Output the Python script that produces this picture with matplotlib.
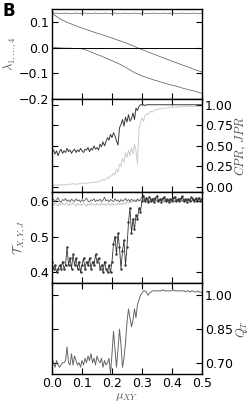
import numpy as np
import matplotlib
matplotlib.use('Agg')
import matplotlib.pyplot as plt

plt.rcParams['mathtext.fontset'] = 'cm'
plt.rcParams['font.size'] = 9

# x grids
mu_fine = [round(0.005 * i, 3) for i in range(101)]
mu_coarse = [round(0.01 * i, 2) for i in range(51)]

# panel 1: eigenvalues
lam1 = [0.140, 0.136, 0.133, 0.135, 0.132, 0.134, 0.131, 0.134, 0.133, 0.135,
        0.132, 0.134, 0.133, 0.131, 0.134, 0.132, 0.135, 0.133, 0.132, 0.134,
        0.131, 0.133, 0.135, 0.132, 0.134, 0.133, 0.131, 0.134, 0.132, 0.135,
        0.133, 0.132, 0.134, 0.131, 0.133, 0.135, 0.132, 0.134, 0.133, 0.131,
        0.134, 0.132, 0.135, 0.133, 0.132, 0.134, 0.131, 0.133, 0.135, 0.132,
        0.134, 0.133, 0.131, 0.134, 0.132, 0.135, 0.133, 0.132, 0.134, 0.131,
        0.133, 0.135, 0.132, 0.134, 0.133, 0.131, 0.134, 0.132, 0.135, 0.133,
        0.132, 0.134, 0.131, 0.133, 0.135, 0.132, 0.134, 0.133, 0.131, 0.134,
        0.132, 0.135, 0.133, 0.132, 0.134, 0.131, 0.133, 0.135, 0.132, 0.134,
        0.133, 0.131, 0.134, 0.132, 0.135, 0.133, 0.132, 0.134, 0.131, 0.133,
        0.134]
lam2 = [0.135, 0.125, 0.117, 0.110, 0.104, 0.098, 0.094, 0.089, 0.085, 0.080,
        0.076, 0.072, 0.068, 0.064, 0.060, 0.056, 0.053, 0.049, 0.045, 0.041,
        0.037, 0.033, 0.029, 0.025, 0.021, 0.016, 0.012, 0.007, 0.002, -0.003,
        -0.008, -0.012, -0.017, -0.021, -0.026, -0.030, -0.035, -0.039, -0.044, -0.048,
        -0.053, -0.057, -0.061, -0.066, -0.070, -0.074, -0.078, -0.083, -0.087, -0.091,
        -0.095]
lam3 = [0.000, 0.000, -0.001, -0.001, -0.002, -0.002, -0.002, -0.003, -0.003, -0.004,
        -0.005, -0.008, -0.012, -0.017, -0.022, -0.027, -0.031, -0.036, -0.041, -0.046,
        -0.051, -0.056, -0.061, -0.067, -0.073, -0.080, -0.087, -0.094, -0.100, -0.105,
        -0.110, -0.114, -0.118, -0.122, -0.126, -0.129, -0.133, -0.136, -0.140, -0.143,
        -0.146, -0.149, -0.152, -0.156, -0.159, -0.162, -0.165, -0.168, -0.171, -0.175,
        -0.178]
lam4 = 0.0

# panel 2: CPR (dark) and JPR (light)
cpr = [0.42, 0.45, 0.40, 0.44, 0.38, 0.43, 0.46, 0.41, 0.44, 0.42,
       0.47, 0.43, 0.45, 0.41, 0.44, 0.46, 0.42, 0.45, 0.43, 0.47,
       0.44, 0.42, 0.46, 0.45, 0.48, 0.43, 0.47, 0.45, 0.50, 0.46,
       0.48, 0.45, 0.52, 0.49, 0.55, 0.50, 0.55, 0.60, 0.57, 0.64,
       0.60, 0.66, 0.62, 0.56, 0.51, 0.72, 0.76, 0.82, 0.74, 0.85,
       0.79, 0.88, 0.80, 0.83, 0.90, 0.82, 0.96, 0.93, 0.98, 1.00,
       1.00, 1.00, 0.99, 1.00, 1.00, 1.00, 1.00, 1.00, 1.00, 1.00,
       1.00, 1.00, 1.00, 1.00, 1.00, 1.00, 1.00, 1.00, 1.00, 1.00,
       1.00, 1.00, 1.00, 1.00, 1.00, 1.00, 1.00, 1.00, 1.00, 1.00,
       1.00, 1.00, 1.00, 1.00, 1.00, 1.00, 1.00, 1.00, 1.00, 1.00,
       1.00]
jpr = [0.02, 0.02, 0.03, 0.02, 0.03, 0.02, 0.03, 0.03, 0.02, 0.03,
       0.03, 0.03, 0.04, 0.03, 0.04, 0.04, 0.03, 0.04, 0.04, 0.05,
       0.04, 0.05, 0.05, 0.04, 0.05, 0.05, 0.06, 0.05, 0.06, 0.06,
       0.06, 0.07, 0.07, 0.08, 0.09, 0.08, 0.10, 0.12, 0.10, 0.14,
       0.13, 0.17, 0.15, 0.22, 0.18, 0.28, 0.25, 0.35, 0.30, 0.42,
       0.36, 0.45, 0.38, 0.48, 0.40, 0.52, 0.44, 0.28, 0.70, 0.78,
       0.84, 0.80, 0.87, 0.89, 0.88, 0.91, 0.92, 0.91, 0.93, 0.94,
       0.94, 0.95, 0.95, 0.95, 0.96, 0.96, 0.96, 0.96, 0.97, 0.97,
       0.97, 0.97, 0.97, 0.97, 0.97, 0.98, 0.97, 0.98, 0.98, 0.98,
       0.98, 0.98, 0.98, 0.98, 0.98, 0.98, 0.98, 0.98, 0.98, 0.98,
       0.98]

# panel 3: transfer entropies
t_j = [0.43, 0.41, 0.42, 0.40, 0.41, 0.42, 0.41, 0.43, 0.41, 0.42,
       0.47, 0.42, 0.44, 0.41, 0.45, 0.42, 0.44, 0.41, 0.43, 0.40,
       0.42, 0.44, 0.41, 0.43, 0.42, 0.44, 0.41, 0.43, 0.42, 0.45,
       0.43, 0.44, 0.41, 0.42, 0.40, 0.43, 0.41, 0.40, 0.42, 0.40,
       0.43, 0.48, 0.50, 0.45, 0.51, 0.47, 0.41, 0.46, 0.49, 0.42,
       0.47, 0.54, 0.58, 0.51, 0.55, 0.52, 0.56, 0.55, 0.58, 0.57,
       0.60, 0.615, 0.600, 0.608, 0.598, 0.612, 0.601, 0.606, 0.597, 0.609,
       0.614, 0.600, 0.605, 0.598, 0.607, 0.611, 0.600, 0.604, 0.597, 0.606,
       0.600, 0.608, 0.612, 0.599, 0.605, 0.600, 0.607, 0.613, 0.600, 0.604,
       0.598, 0.606, 0.600, 0.611, 0.604, 0.599, 0.607, 0.600, 0.609, 0.601,
       0.606]
t_x = [0.600, 0.605, 0.598, 0.603, 0.609, 0.600, 0.596, 0.604, 0.601, 0.607,
       0.599, 0.603, 0.597, 0.605, 0.601, 0.598, 0.606, 0.600, 0.603, 0.597,
       0.604, 0.599, 0.602, 0.608, 0.600, 0.597, 0.603, 0.601, 0.606, 0.598,
       0.603, 0.600, 0.605, 0.598, 0.602, 0.610, 0.600, 0.603, 0.597, 0.604,
       0.601, 0.598, 0.606, 0.600, 0.603, 0.597, 0.604, 0.599, 0.602, 0.607,
       0.600, 0.604, 0.598, 0.605, 0.601, 0.603, 0.598, 0.606, 0.600, 0.604,
       0.612, 0.603, 0.598, 0.606, 0.601, 0.597, 0.605, 0.600, 0.608, 0.602,
       0.599, 0.604, 0.600, 0.606, 0.601, 0.598, 0.605, 0.600, 0.603, 0.599,
       0.606, 0.601, 0.597, 0.604, 0.600, 0.607, 0.602, 0.598, 0.604, 0.600,
       0.606, 0.601, 0.603, 0.598, 0.605, 0.600, 0.604, 0.599, 0.607, 0.601,
       0.603]
t_y = [0.592, 0.588, 0.594, 0.590, 0.586, 0.593, 0.589, 0.595, 0.588, 0.591,
       0.594, 0.587, 0.592, 0.589, 0.595, 0.590, 0.586, 0.593, 0.589, 0.591,
       0.587, 0.593, 0.590, 0.585, 0.592, 0.588, 0.594, 0.589, 0.591, 0.586,
       0.593, 0.590, 0.588, 0.594, 0.589, 0.592, 0.587, 0.593, 0.590, 0.588,
       0.594, 0.589, 0.592, 0.588, 0.595, 0.590, 0.593, 0.589, 0.596, 0.592,
       0.597, 0.594, 0.598, 0.595, 0.600, 0.597, 0.601, 0.598, 0.602, 0.600,
       0.603, 0.600, 0.605, 0.601, 0.603, 0.599, 0.604, 0.600, 0.602, 0.605,
       0.600, 0.603, 0.599, 0.604, 0.601, 0.603, 0.600, 0.605, 0.601, 0.602,
       0.599, 0.604, 0.600, 0.603, 0.601, 0.605, 0.600, 0.602, 0.604, 0.600,
       0.603, 0.601, 0.599, 0.604, 0.600, 0.603, 0.601, 0.605, 0.600, 0.602,
       0.603]

# panel 4: Q_T
q_t = [0.72, 0.70, 0.68, 0.71, 0.69, 0.68, 0.69, 0.70, 0.70, 0.71,
       0.77, 0.70, 0.69, 0.74, 0.69, 0.73, 0.71, 0.69, 0.70, 0.68,
       0.71, 0.69, 0.72, 0.70, 0.73, 0.71, 0.74, 0.70, 0.72, 0.69,
       0.73, 0.71, 0.70, 0.72, 0.68, 0.71, 0.69, 0.70, 0.72, 0.65,
       0.74, 0.84, 0.76, 0.68, 0.76, 0.85, 0.78, 0.68, 0.72, 0.79,
       0.88, 0.94, 0.90, 0.86, 0.89, 0.94, 0.90, 0.96, 0.98, 1.00,
       1.01, 1.02, 1.02, 1.015, 1.00, 1.01, 1.015, 1.02, 1.02, 1.02,
       1.02, 1.02, 1.02, 1.02, 1.025, 1.02, 1.02, 1.02, 1.02, 1.02,
       1.02, 1.025, 1.02, 1.02, 1.02, 1.02, 1.02, 1.02, 1.02, 1.015,
       1.02, 1.02, 1.015, 1.02, 1.02, 1.015, 1.015, 1.02, 1.015, 1.015,
       1.01]

fig = plt.figure(figsize=(2.49, 4.03), dpi=100)
L, W = 0.209, 0.602
ax1 = fig.add_axes([L, 0.7543, W, 0.2233])
ax2 = fig.add_axes([L, 0.5236, W, 0.2308])
ax3 = fig.add_axes([L, 0.2978, W, 0.2258])
ax4 = fig.add_axes([L, 0.0720, W, 0.2258])

for ax in (ax1, ax2, ax3, ax4):
    ax.set_xlim(0, 0.5)
    ax.set_xticks([0.0, 0.1, 0.2, 0.3, 0.4, 0.5])
    ax.tick_params(direction='in', top=True, bottom=True, length=4, width=0.8,
                   labelsize=9, pad=2)
    for s in ax.spines.values():
        s.set_linewidth(1.0)
    if ax is not ax4:
        ax.set_xticklabels([])

# panel 1
ax1.plot(mu_fine, lam1, color='#666666', lw=0.5)
ax1.plot(mu_coarse, lam2, color='#555555', lw=0.5)
ax1.plot(mu_coarse, lam3, color='#555555', lw=0.5)
ax1.axhline(lam4, color='black', lw=0.7)
ax1.set_ylim(-0.2, 0.15)
ax1.set_yticks([-0.2, -0.1, 0.0, 0.1])
ax1.tick_params(axis='y', left=True, right=True)
ax1.set_ylabel(r'$\lambda_{1,\ldots,4}$', fontsize=9, color='#555555', labelpad=0)

# panel 2
ax2.plot(mu_fine, jpr, color='#cccccc', lw=0.7)
ax2.plot(mu_fine, cpr, color='#3a3a3a', lw=0.7)
ax2.set_ylim(-0.06, 1.07)
ax2.set_yticks([0.0, 0.25, 0.5, 0.75, 1.0])
ax2.yaxis.tick_right()
ax2.yaxis.set_label_position('right')
ax2.tick_params(axis='y', left=True, right=True, labelleft=False, labelright=True)
ax2.set_yticklabels(['0.00', '0.25', '0.50', '0.75', '1.00'])
ax2.set_ylabel(r'$CPR,\,JPR$', fontsize=9, color='#555555', labelpad=0)

# panel 3
ax3.plot(mu_fine, t_y, color='#c4c4c4', lw=0.7)
ax3.plot(mu_fine, t_x, color='#5a5a5a', lw=0.6)
ax3.plot(mu_fine, t_j, color='#333333', lw=0.6, marker='.', ms=1.5)
ax3.set_ylim(0.37, 0.625)
ax3.set_yticks([0.4, 0.5, 0.6])
ax3.tick_params(axis='y', left=True, right=True)
ax3.set_ylabel(r'$\mathcal{T}_{X,Y,J}$', fontsize=9, color='#555555', labelpad=1)

# panel 4
ax4.plot(mu_fine, q_t, color='#666666', lw=0.7)
ax4.set_ylim(0.65, 1.055)
ax4.set_yticks([0.70, 0.85, 1.00])
ax4.set_yticklabels(['0.70', '0.85', '1.00'])
ax4.yaxis.tick_right()
ax4.yaxis.set_label_position('right')
ax4.tick_params(axis='y', left=True, right=True, labelleft=False, labelright=True)
ax4.set_ylabel(r'$Q_T$', fontsize=9, color='#555555', labelpad=1)
ax4.set_xlabel(r'$\mu_{XY}$', fontsize=9, color='#555555', labelpad=0)

fig.text(0.012, 0.995, 'B', fontsize=12, fontweight='bold', va='top', ha='left')

fig.savefig('out.png', dpi=100)
